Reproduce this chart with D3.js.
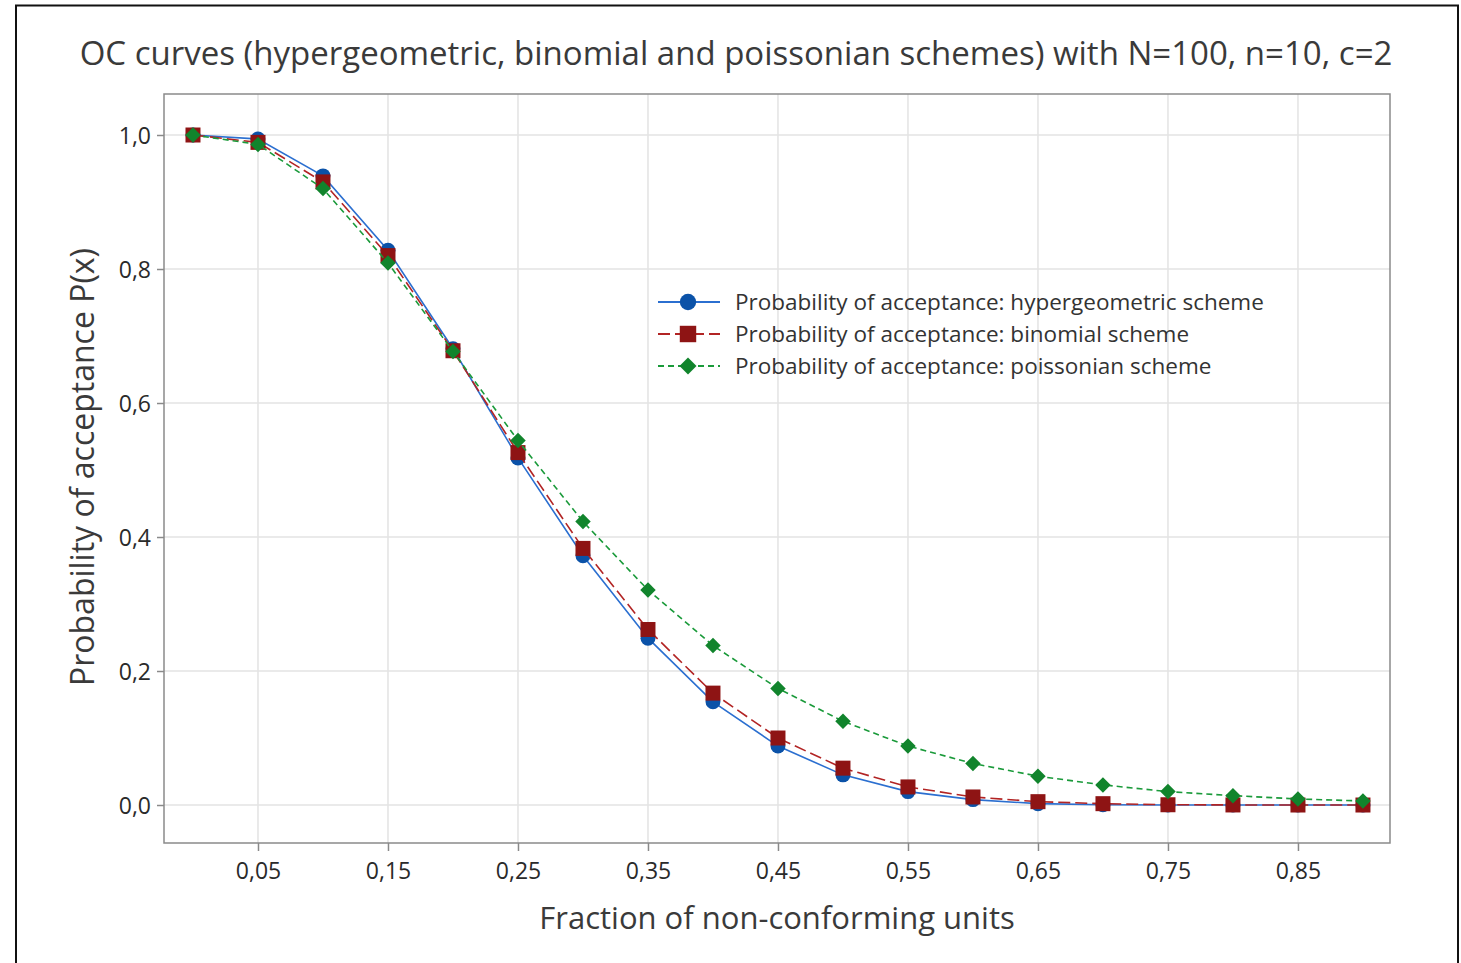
<!DOCTYPE html>
<html>
<head>
<meta charset="utf-8">
<script src="https://cdn.jsdelivr.net/npm/d3@7/dist/d3.min.js"></script>
<style>
  body { margin: 0; background: #fff; }
  svg { display: block; font-family: "Open Sans", "Noto Sans", sans-serif; }
</style>
</head>
<body>
<div id="chart"></div>
<script>
var width = 1461;
var height = 963;

// fraction of non-conforming units
var fractions = [0, 0.05, 0.10, 0.15, 0.20, 0.25, 0.30, 0.35, 0.40, 0.45,
                 0.50, 0.55, 0.60, 0.65, 0.70, 0.75, 0.80, 0.85, 0.90];

// probability of acceptance
var hypergeometric = [1.000, 0.994, 0.939, 0.828, 0.681, 0.518, 0.372, 0.249, 0.154, 0.088,
                      0.045, 0.020, 0.008, 0.002, 0.0005, 0.0001, 0, 0, 0];
var binomial = [1.000, 0.989, 0.930, 0.820, 0.678, 0.526, 0.383, 0.262, 0.167, 0.100,
                0.055, 0.027, 0.012, 0.005, 0.002, 0.0004, 0.0001, 0, 0];
var poissonian = [1.000, 0.986, 0.920, 0.809, 0.677, 0.544, 0.423, 0.321, 0.238, 0.174,
                  0.125, 0.088, 0.062, 0.043, 0.030, 0.020, 0.014, 0.009, 0.006];

var xTicks = [0.05, 0.15, 0.25, 0.35, 0.45, 0.55, 0.65, 0.75, 0.85];
var yTicks = [0, 0.2, 0.4, 0.6, 0.8, 1.0];

var seriesNames = ["Probability of acceptance: hypergeometric scheme",
                   "Probability of acceptance: binomial scheme",
                   "Probability of acceptance: poissonian scheme"];

// diamond = square turned by 45 degrees
var series = [
  { name: seriesNames[0], values: hypergeometric, line: "#2b6fd0", fill: "#0b52a8", dash: null, symbol: d3.symbolCircle, size: 175, rot: 0 },
  { name: seriesNames[1], values: binomial, line: "#b22424", fill: "#8e1414", dash: "12,5", symbol: d3.symbolSquare, size: 225, rot: 0 },
  { name: seriesNames[2], values: poissonian, line: "#1a9a3a", fill: "#11842c", dash: "6,4", symbol: d3.symbolSquare, size: 120, rot: 45 }
];

var plot = { left: 164, right: 1390, top: 94, bottom: 843 };

var x = d3.scaleLinear()
    .domain([-0.0223, 0.9208])
    .range([plot.left, plot.right]);

var y = d3.scaleLinear()
    .domain([-0.0567, 1.0612])
    .range([plot.bottom, plot.top]);

var svg = d3.select("#chart")
  .append("svg")
    .attr("width", width)
    .attr("height", height);

// outer frame
svg.append("rect")
    .attr("x", 16)
    .attr("y", 5.5)
    .attr("width", 1442)
    .attr("height", 980)
    .attr("fill", "#fff")
    .attr("stroke", "#111")
    .attr("stroke-width", 2);

// title
svg.append("text")
    .attr("x", 736)
    .attr("y", 65)
    .attr("text-anchor", "middle")
    .attr("fill", "#3a3a3a")
    .style("font-size", "33px")
    .style("font-weight", 500)
    .text("OC curves (hypergeometric, binomial and poissonian schemes) with N=100, n=10, c=2");

// gridlines
svg.append("g")
  .selectAll("line.vgrid")
  .data(xTicks)
  .enter().append("line")
    .attr("x1", function(d) { return x(d); })
    .attr("x2", function(d) { return x(d); })
    .attr("y1", plot.top)
    .attr("y2", plot.bottom)
    .attr("stroke", "#e3e3e3")
    .attr("stroke-width", 1.5);

svg.append("g")
  .selectAll("line.hgrid")
  .data(yTicks)
  .enter().append("line")
    .attr("x1", plot.left)
    .attr("x2", plot.right)
    .attr("y1", function(d) { return y(d); })
    .attr("y2", function(d) { return y(d); })
    .attr("stroke", "#e3e3e3")
    .attr("stroke-width", 1.5);

// plot frame
svg.append("rect")
    .attr("x", plot.left)
    .attr("y", plot.top)
    .attr("width", plot.right - plot.left)
    .attr("height", plot.bottom - plot.top)
    .attr("fill", "none")
    .attr("stroke", "#8a8a8a")
    .attr("stroke-width", 1.5);

var comma = function(f) { return function(d) { return d3.format(f)(d).replace(".", ","); }; };

// axes
var xAxis = svg.append("g")
    .attr("transform", "translate(0," + plot.bottom + ")")
    .call(d3.axisBottom(x).tickValues(xTicks).tickFormat(comma(".2f")).tickSize(8).tickPadding(7));

var yAxis = svg.append("g")
    .attr("transform", "translate(" + plot.left + ",0)")
    .call(d3.axisLeft(y).tickValues(yTicks).tickFormat(comma(".1f")).tickSize(7).tickPadding(6));

[xAxis, yAxis].forEach(function(a) {
  a.select(".domain").remove();
  a.selectAll(".tick line").attr("stroke", "#8a8a8a").attr("stroke-width", 1.5);
  a.selectAll(".tick text")
    .attr("fill", "#2a2a2a")
    .style("font-size", "23px")
    .style("font-weight", 500)
    .style("font-family", "\"Open Sans\", \"Noto Sans\", sans-serif");
});
xAxis.selectAll(".tick text").attr("dy", "0.9em");
yAxis.selectAll(".tick text").attr("dy", "0.35em");

// axis titles
svg.append("text")
    .attr("x", 777)
    .attr("y", 929)
    .attr("text-anchor", "middle")
    .attr("fill", "#3a3a3a")
    .style("font-size", "31px")
    .style("font-weight", 500)
    .text("Fraction of non-conforming units");

svg.append("text")
    .attr("transform", "translate(94,467) rotate(-90)")
    .attr("text-anchor", "middle")
    .attr("fill", "#3a3a3a")
    .style("font-size", "32px")
    .style("font-weight", 500)
    .text("Probability of acceptance P(x)");

// lines and markers
var line = d3.line()
    .x(function(d, i) { return x(fractions[i]); })
    .y(function(d) { return y(d); });

series.forEach(function(s) {
  svg.append("path")
      .datum(s.values)
      .attr("fill", "none")
      .attr("stroke", s.line)
      .attr("stroke-width", 1.6)
      .attr("stroke-dasharray", s.dash)
      .attr("d", line);

  svg.append("g")
    .selectAll("path")
    .data(s.values)
    .enter().append("path")
      .attr("transform", function(d, i) { return "translate(" + x(fractions[i]) + "," + y(d) + ") rotate(" + s.rot + ")"; })
      .attr("d", d3.symbol().type(s.symbol).size(s.size))
      .attr("fill", s.fill);
});

// legend
var legend = svg.append("g")
  .selectAll("g")
  .data(series)
  .enter().append("g")
    .attr("transform", function(d, i) { return "translate(658," + (302 + i * 32) + ")"; });

legend.append("line")
    .attr("x1", 0)
    .attr("x2", 62)
    .attr("stroke", function(d) { return d.line; })
    .attr("stroke-width", 1.8)
    .attr("stroke-dasharray", function(d) { return d.dash; });

legend.append("path")
    .attr("transform", function(d) { return "translate(30,0) rotate(" + d.rot + ")"; })
    .attr("d", function(d) { return d3.symbol().type(d.symbol).size(d.size * 1.2)(); })
    .attr("fill", function(d) { return d.fill; });

legend.append("text")
    .attr("x", 77)
    .attr("dy", "0.35em")
    .attr("fill", "#333")
    .style("font-size", "22.5px")
    .style("font-weight", 500)
    .text(function(d) { return d.name; });
</script>
</body>
</html>
